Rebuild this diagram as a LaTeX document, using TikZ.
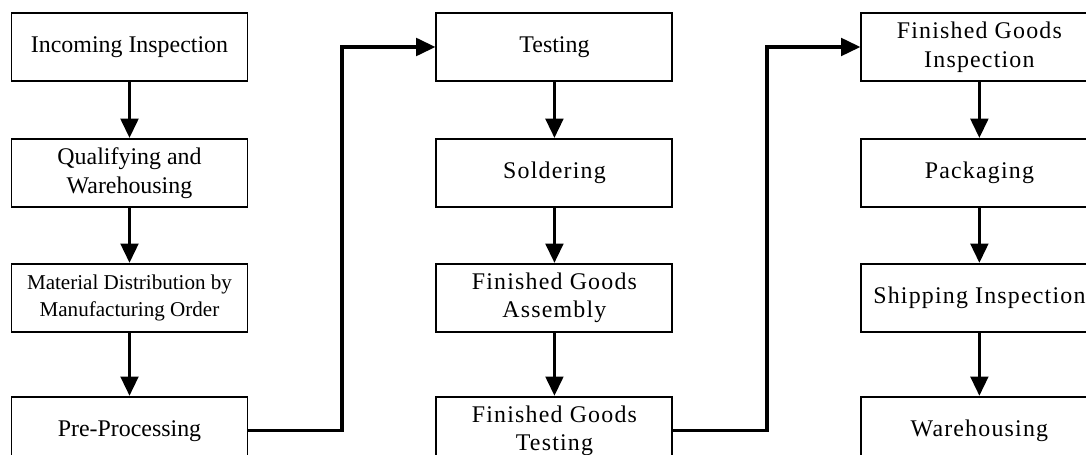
\documentclass[tikz,border=0pt]{standalone}
\usepackage{fontspec}
\setmainfont{Liberation Serif}
\newfontfamily\spacedrm[LetterSpace=5]{Liberation Serif}
\usetikzlibrary{arrows.meta,positioning}

\begin{document}
\begin{tikzpicture}[
  box/.style={rectangle, draw, line width=1.1pt, minimum width=4.72cm,
              minimum height=1.36cm, inner sep=1pt, align=center,
              font=\fontsize{13.6pt}{16.4pt}\selectfont},
  wbox/.style={box, font=\fontsize{13.6pt}{16.4pt}\spacedrm},
  arr/.style={-{Triangle[length=11pt,width=10pt]}, line width=1.9pt},
]
\clip[use as bounding box] (0,0) rectangle (21.72,-9.10);

\node[box] (inc) at (2.59,-0.94) {Incoming Inspection};
\node[box, below=1.12cm of inc] (qual) {Qualifying and\\Warehousing};
\node[box, below=1.1cm of qual, font=\fontsize{12pt}{15.1pt}\selectfont] (dist) {Material Distribution by\\Manufacturing Order};
\node[box, below=1.26cm of dist] (pre) {Pre-Processing};

\node[box, right=3.74cm of inc] (test) {Testing};
\node[wbox, below=1.12cm of test] (sold) {Soldering};
\node[wbox, below=1.1cm of sold] (assy) {Finished Goods\\Assembly};
\node[wbox, below=1.26cm of assy] (fgtest) {Finished Goods\\Testing};

\node[wbox, right=3.74cm of test] (fginsp) {Finished Goods\\Inspection};
\node[wbox, below=1.12cm of fginsp] (pack) {Packaging};
\node[wbox, below=1.1cm of pack] (ship) {Shipping Inspection};
\node[wbox, below=1.26cm of ship] (ware) {Warehousing};

\draw[arr] (inc) -- (qual);
\draw[arr] (qual) -- (dist);
\draw[arr] (dist) -- (pre);
\draw[arr] (pre.east) -- ++(1.87,0) |- (test.west);
\draw[arr] (test) -- (sold);
\draw[arr] (sold) -- (assy);
\draw[arr] (assy) -- (fgtest);
\draw[arr] (fgtest.east) -- ++(1.87,0) |- (fginsp.west);
\draw[arr] (fginsp) -- (pack);
\draw[arr] (pack) -- (ship);
\draw[arr] (ship) -- (ware);
\end{tikzpicture}
\end{document}
